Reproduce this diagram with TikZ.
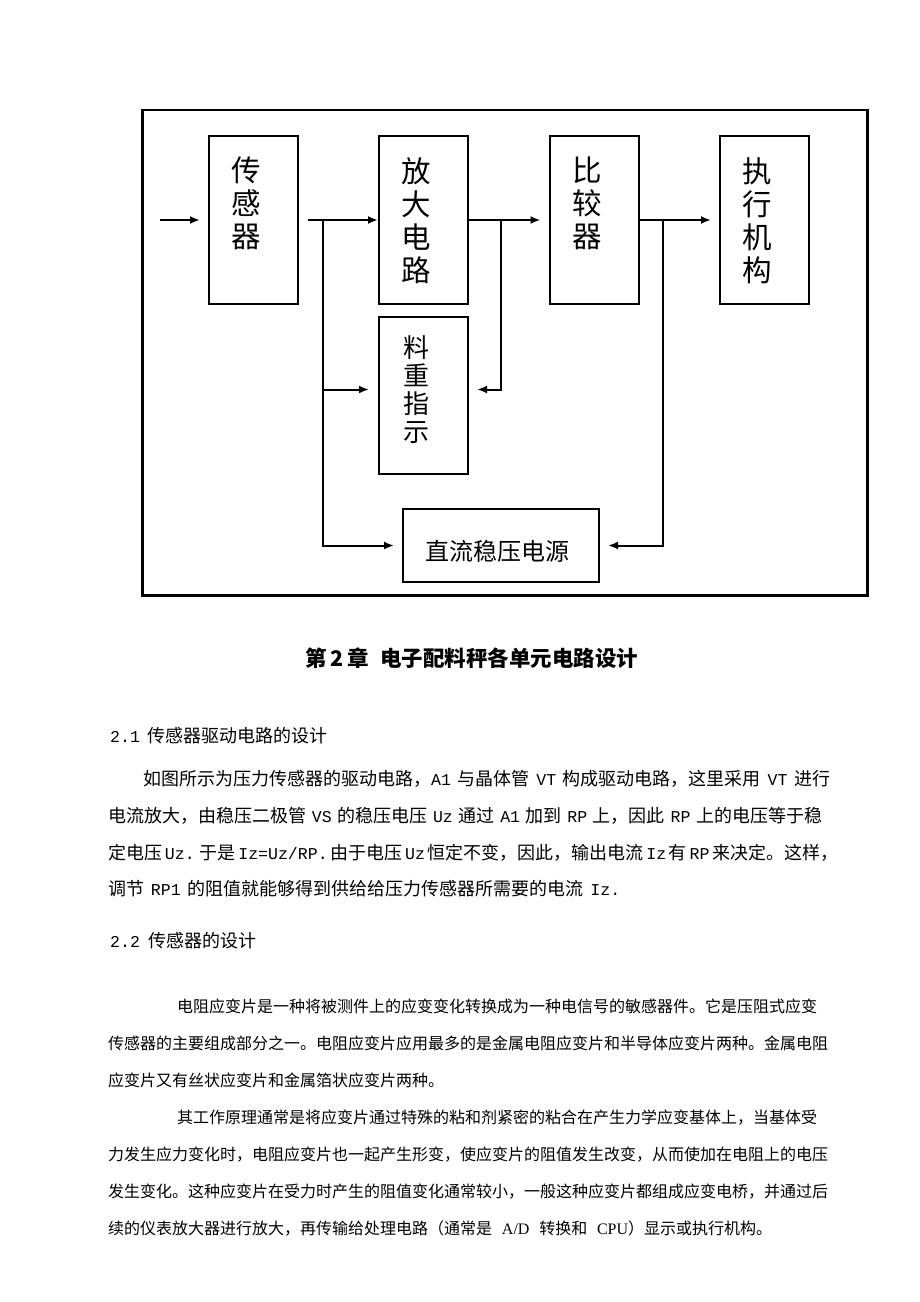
\documentclass[tikz,border=0pt]{standalone}
\usepackage{fontspec}
\setmainfont{Noto Sans CJK SC}
\newfontfamily\mono[Scale=0.92]{Liberation Mono}
\newfontfamily\tnr{Liberation Serif}
\usetikzlibrary{arrows.meta}
\XeTeXlinebreaklocale "zh"
\XeTeXlinebreakskip=0pt plus 1pt
\newcommand{\fa}{\fontsize{18}{18}\selectfont}
\newcommand{\fb}{\fontsize{16}{16}\selectfont}
\tikzset{
  blk/.style={draw, line width=2pt, inner sep=0pt, minimum width=89pt, minimum height=168pt},
  vtxt/.style={anchor=north, inner sep=0pt, align=center, font=\fontsize{29.5}{33}\selectfont},
  arr/.style={line width=2pt, -{Latex[length=10pt,width=8pt]}},
  tl/.style={anchor=base west, inner sep=0pt},
}
\begin{document}
\begin{tikzpicture}[x=1pt,y=-1pt]
\fill[white] (0,0) rectangle (920,1302);
\useasboundingbox (0,0) rectangle (920,1302);

% frame
\node[draw, line width=2.2pt, inner sep=0pt, minimum width=725pt, minimum height=485.5pt] (frame) at (505,352.75) {};

% blocks
\node[blk] (s) at (253.5,220) {};
\node[blk] (a) at (423.5,220) {};
\node[blk] (c) at (594,220) {};
\node[blk] (e) at (764.5,220) {};
\node[blk, minimum height=157pt] (ind) at (423.5,395) {};
\node[draw, line width=2pt, inner sep=0pt, minimum width=196pt, minimum height=73pt] (ps) at (501,545.5) {};

% block texts
\node[vtxt] (st) at (246.5,157) {传\\感\\器};
\node[vtxt] (at) at (416.5,157) {放\\大\\电\\路};
\node[vtxt] (ct) at (587,157) {比\\较\\器};
\node[vtxt] (et) at (757.5,157) {执\\行\\机\\构};
\node[vtxt, font=\fontsize{26}{28}\selectfont] (indt) at (416.5,335) {料\\重\\指\\示};
\node[inner sep=0pt, font=\fontsize{24}{24}\selectfont] (pst) at (497.5,551.7) {直流稳压电源};

% connectors
\coordinate (in) at (160,220);
\coordinate (j1) at (323,220);
\coordinate (j2) at (501,220);
\coordinate (j3) at (663,220);
\draw[arr, shorten >=8pt] (in) -- (s.west);
\draw[arr, shorten <=9pt] (s.east) -- (a.west);
\draw[arr, shorten >=8pt] (a.east) -- (c.west);
\draw[arr, shorten >=8pt] (c.east) -- (e.west);
\draw[arr, shorten >=9pt] (j1) |- ([yshift=5.5pt]ind.west);
\draw[arr, shorten >=8pt] (j1) |- (ps.west);
\draw[arr, shorten >=8pt] (j2) |- ([yshift=5.5pt]ind.east);
\draw[arr, shorten >=8pt] (j3) |- (ps.east);

% chapter title
\node[tl, font=\fontsize{21.5}{21.5}\selectfont\bfseries] (title) at (305,666)
  {\makebox[333pt][s]{第 2 章\hspace{0.5em plus 2pt}电子配料秤各单元电路设计}};

% section 2.1
\node[tl, font=\fa] (h1) at (110,742) {\makebox[217pt][s]{{\mono 2.1} 传感器驱动电路的设计}};
\node[tl, font=\fa] (p1a) at (143,785) {\makebox[687pt][s]{如图所示为压力传感器的驱动电路，{\mono A1} 与晶体管 {\mono VT} 构成驱动电路，这里采用 {\mono VT} 进行}};
\node[tl, font=\fa] (p1b) at (108,822) {\makebox[714pt][s]{电流放大，由稳压二极管 {\mono VS} 的稳压电压 {\mono Uz} 通过 {\mono A1} 加到 {\mono RP} 上，因此 {\mono RP} 上的电压等于稳}};
\node[tl, font=\fa] (p1c) at (108,859) {\makebox[724pt][s]{定电压 {\mono Uz.} 于是 {\mono Iz=Uz/RP.} 由于电压 {\mono Uz} 恒定不变，因此，输出电流 {\mono Iz} 有 {\mono RP} 来决定。这样，}};
\node[tl, font=\fa] (p1d) at (108,895) {\makebox[512pt][s]{调节 {\mono RP1} 的阻值就能够得到供给给压力传感器所需要的电流 {\mono Iz.}}};

% section 2.2
\node[tl, font=\fa] (h2) at (110,947) {\makebox[146pt][s]{{\mono 2.2} 传感器的设计}};
\node[tl, font=\fb] (p2a) at (177,1012) {\makebox[653pt][s]{电阻应变片是一种将被测件上的应变变化转换成为一种电信号的敏感器件。它是压阻式应变}};
\node[tl, font=\fb] (p2b) at (108,1049) {\makebox[722pt][s]{传感器的主要组成部分之一。电阻应变片应用最多的是金属电阻应变片和半导体应变片两种。金属电阻}};
\node[tl, font=\fb] (p2c) at (108,1086) {应变片又有丝状应变片和金属箔状应变片两种。};
\node[tl, font=\fb] (p2d) at (177,1123) {\makebox[653pt][s]{其工作原理通常是将应变片通过特殊的粘和剂紧密的粘合在产生力学应变基体上，当基体受}};
\node[tl, font=\fb] (p2e) at (108,1160) {\makebox[722pt][s]{力发生应力变化时，电阻应变片也一起产生形变，使应变片的阻值发生改变，从而使加在电阻上的电压}};
\node[tl, font=\fb] (p2f) at (108,1197) {\makebox[722pt][s]{发生变化。这种应变片在受力时产生的阻值变化通常较小，一般这种应变片都组成应变电桥，并通过后}};
\node[tl, font=\fb] (p2g) at (108,1234) {\makebox[664pt][s]{续的仪表放大器进行放大，再传输给处理电路（通常是 {\tnr A/D} 转换和 {\tnr CPU}）显示或执行机构。}};
\end{tikzpicture}
\end{document}
